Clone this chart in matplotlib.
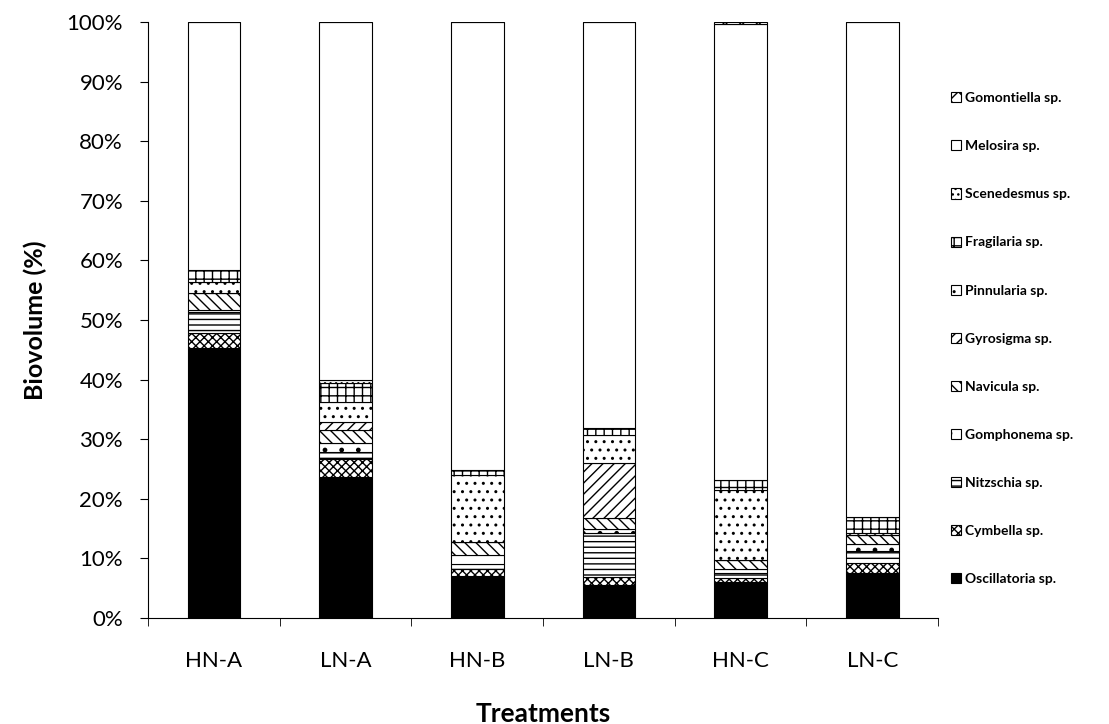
import matplotlib
matplotlib.use("Agg")
import matplotlib.pyplot as plt
from matplotlib.patches import Patch
import numpy as np

plt.rcParams['font.family'] = ['Lato', 'DejaVu Sans']
plt.rcParams['hatch.linewidth'] = 1.0

treatments = ["HN-A", "LN-A", "HN-B", "LN-B", "HN-C", "LN-C"]

# percent biovolume per taxon, bottom of stack first
oscillatoria = [45.3, 23.7, 7.0, 5.5, 6.0, 7.5]
cymbella     = [2.6, 3.0, 1.3, 1.4, 0.7, 1.8]
nitzschia    = [3.4, 1.2, 0.7, 7.3, 0.8, 2.0]
gomphonema   = [0.4, 1.5, 1.5, 0.8, 0.8, 1.2]
navicula     = [2.8, 2.1, 2.2, 1.8, 1.4, 1.4]
gyrosigma    = [0.0, 1.4, 0.0, 9.2, 0.0, 0.0]
pinnularia   = [1.9, 3.3, 11.3, 4.7, 11.8, 0.3]
fragilaria   = [2.0, 3.2, 0.8, 1.2, 1.7, 2.7]
scenedesmus  = [0.0, 0.5, 0.0, 0.0, 0.0, 0.0]
melosira     = [41.6, 60.1, 75.2, 68.1, 76.5, 83.1]
gomontiella  = [0.0, 0.0, 0.0, 0.0, 0.3, 0.0]

series = [
    ("Oscillatoria sp.", oscillatoria, "black", None),
    ("Cymbella sp.", cymbella, "white", "xxxx"),
    ("Nitzschia sp.", nitzschia, "white", "---"),
    ("Gomphonema sp.", gomphonema, "white", "."),
    ("Navicula sp.", navicula, "white", "\\\\\\"),
    ("Gyrosigma sp.", gyrosigma, "white", "///"),
    ("Pinnularia sp.", pinnularia, "white", ".."),
    ("Fragilaria sp.", fragilaria, "white", "++"),
    ("Scenedesmus sp.", scenedesmus, "white", "..."),
    ("Melosira sp.", melosira, "white", None),
    ("Gomontiella sp.", gomontiella, "white", "xx"),
]

fig = plt.figure(figsize=(11.09, 7.24), dpi=100)
ax = fig.add_axes([0.1335, 0.1464, 0.7124, 0.823])

x = np.arange(len(treatments))
bottom = np.zeros(len(treatments))
handles = []
for name, vals, color, hatch in series:
    vals = np.array(vals)
    ax.bar(x, vals, 0.4, bottom=bottom, color=color, edgecolor="black",
           hatch=hatch, linewidth=0.8)
    bottom += vals
    handles.append(Patch(facecolor=color, edgecolor="black", hatch=hatch,
                         linewidth=0.8, label=name))

ax.set_xlim(-0.5, len(treatments) - 0.5)
ax.set_ylim(0, 100)
ax.set_yticks(np.arange(0, 101, 10))
ax.set_yticklabels([f"{v}%" for v in range(0, 101, 10)], fontsize=16)
ax.set_xticks(x)
ax.set_xticklabels(treatments, fontsize=16)
ax.tick_params(axis="x", length=0, pad=24)
ax.set_xticks(np.arange(-0.5, len(treatments), 1), minor=True)
ax.tick_params(axis="x", which="minor", length=6, direction="out")
ax.tick_params(axis="y", length=6, direction="out", pad=12)
for s in ["top", "right"]:
    ax.spines[s].set_visible(False)

ax.set_ylabel("Biovolume (%)", fontsize=18, fontweight="bold", labelpad=14)
ax.set_xlabel("Treatments", fontsize=19, fontweight="bold", labelpad=22)

leg = fig.legend(handles=handles[::-1], loc="upper left",
                 bbox_to_anchor=(0.846, 0.89), frameon=False,
                 prop={"size": 10, "weight": "bold"},
                 handlelength=0.75, handleheight=0.75, handletextpad=0.3,
                 labelspacing=2.6)

fig.savefig("out.png", dpi=100)
